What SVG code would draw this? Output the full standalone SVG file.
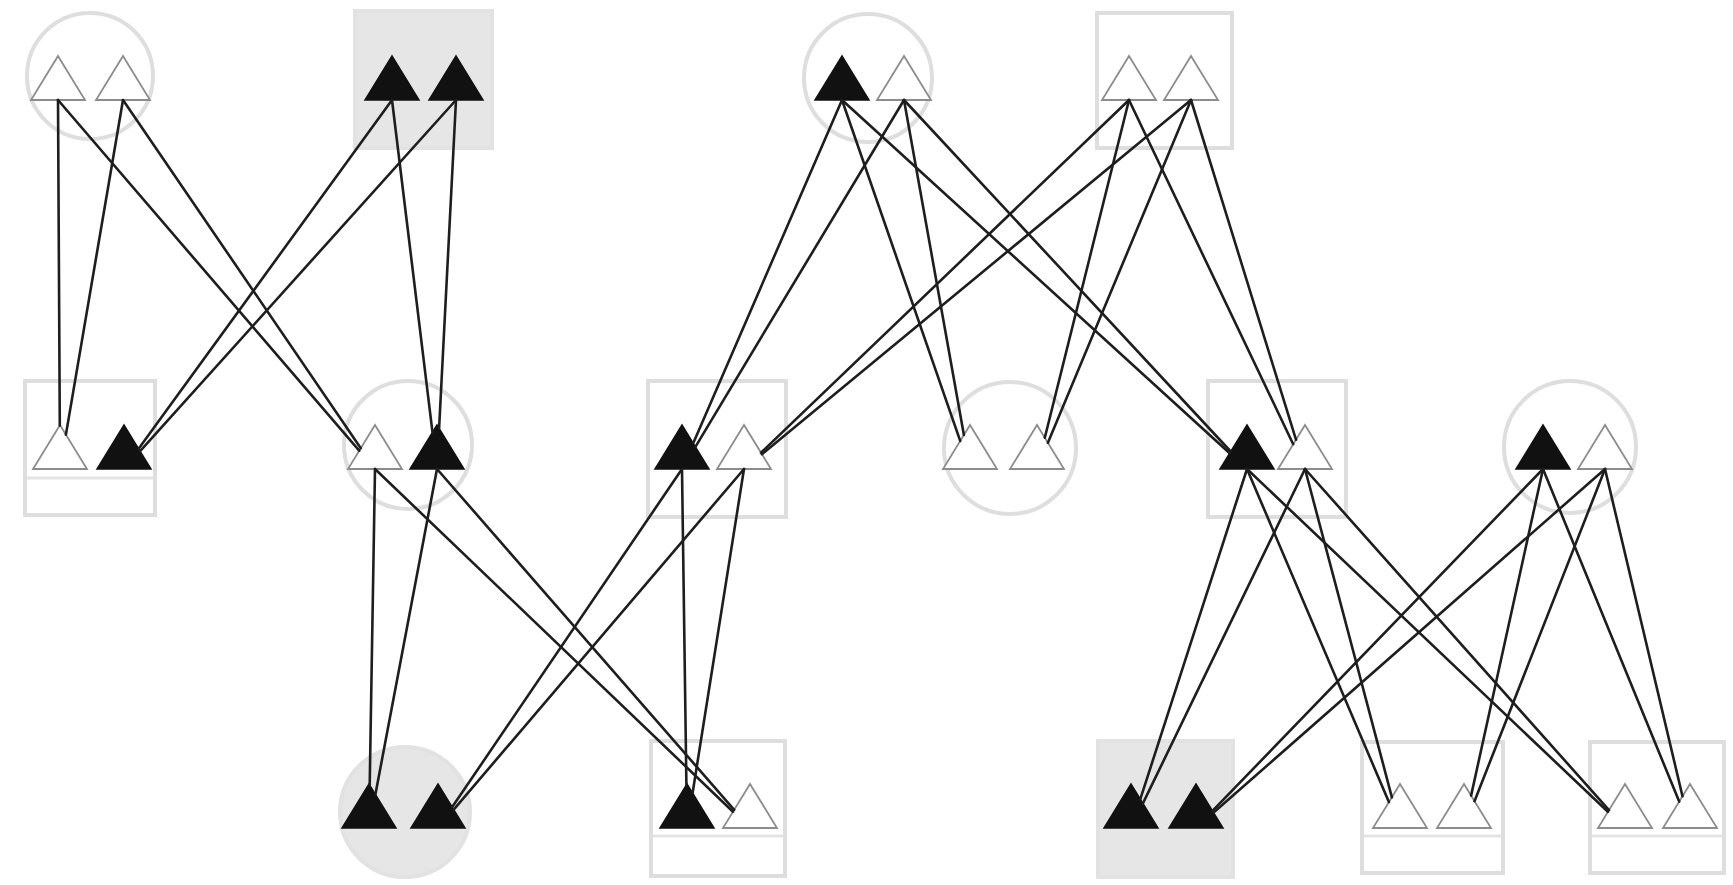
<svg xmlns="http://www.w3.org/2000/svg" xmlns:xlink="http://www.w3.org/1999/xlink" width="1733" height="885" viewBox="0 0 1733 885">
<style>
.bg{fill:#ffffff}
.sh{fill:none;stroke:#dedede;stroke-width:4}
.shg{fill:#e6e6e6;stroke:#e2e2e2;stroke-width:4}
.dv{stroke:#e4e4e4;stroke-width:3;fill:none}
.tw{fill:#ffffff;stroke:#8c8c8c;stroke-width:1.8;stroke-linejoin:miter}
.tb{fill:#111111;stroke:#111111;stroke-width:1.5}
.ln{stroke:#1e1e1e;stroke-width:2.6;fill:none;stroke-linecap:round}
</style>
<defs>
<path id="tri" d="M-27,0 L27,0 L0,-44 Z"/>
</defs>
<rect class="bg" x="0" y="0" width="1733" height="885"/>

<g id="N1"><circle class="sh" cx="90" cy="76" r="63"/><use xlink:href="#tri" class="tw" x="58" y="100"/><use xlink:href="#tri" class="tw" x="123" y="100"/></g>
<g id="N2"><rect class="shg" x="355" y="11" width="137" height="137"/><use xlink:href="#tri" class="tb" x="392" y="100"/><use xlink:href="#tri" class="tb" x="456" y="100"/></g>
<g id="N3"><circle class="sh" cx="868" cy="78" r="64"/><use xlink:href="#tri" class="tb" x="842" y="100"/><use xlink:href="#tri" class="tw" x="904" y="100"/></g>
<g id="N4"><rect class="sh" x="1097" y="13" width="135" height="135"/><use xlink:href="#tri" class="tw" x="1129" y="100"/><use xlink:href="#tri" class="tw" x="1191" y="100"/></g>

<g id="N5"><rect class="sh" x="25" y="381" width="130" height="134"/><line class="dv" x1="27" y1="478" x2="153" y2="478"/><use xlink:href="#tri" class="tw" x="60" y="469"/><use xlink:href="#tri" class="tb" x="124" y="469"/></g>
<g id="N6"><circle class="sh" cx="408" cy="445" r="64"/><use xlink:href="#tri" class="tw" x="375" y="469"/><use xlink:href="#tri" class="tb" x="437" y="469"/></g>
<g id="N7"><rect class="sh" x="648" y="381" width="138" height="136"/><use xlink:href="#tri" class="tb" x="682" y="469"/><use xlink:href="#tri" class="tw" x="744" y="469"/></g>
<g id="N8"><circle class="sh" cx="1010" cy="448" r="66"/><use xlink:href="#tri" class="tw" x="970" y="469"/><use xlink:href="#tri" class="tw" x="1037" y="469"/></g>
<g id="N9"><rect class="sh" x="1208" y="381" width="138" height="136"/><use xlink:href="#tri" class="tb" x="1247" y="469"/><use xlink:href="#tri" class="tw" x="1305" y="469"/></g>
<g id="N10"><circle class="sh" cx="1570" cy="447" r="66"/><use xlink:href="#tri" class="tb" x="1543" y="469"/><use xlink:href="#tri" class="tw" x="1605" y="469"/></g>

<g id="N11"><circle class="shg" cx="405" cy="812" r="65"/><use xlink:href="#tri" class="tb" x="369" y="828"/><use xlink:href="#tri" class="tb" x="438" y="828"/></g>
<g id="N12"><rect class="sh" x="651" y="741" width="134" height="135"/><line class="dv" x1="653" y1="836" x2="783" y2="836"/><use xlink:href="#tri" class="tb" x="687" y="828"/><use xlink:href="#tri" class="tw" x="750" y="828"/></g>
<g id="N13"><rect class="shg" x="1098" y="741" width="135" height="136"/><use xlink:href="#tri" class="tb" x="1131" y="828"/><use xlink:href="#tri" class="tb" x="1196" y="828"/></g>
<g id="N14"><rect class="sh" x="1362" y="742" width="141" height="131"/><line class="dv" x1="1364" y1="836" x2="1501" y2="836"/><use xlink:href="#tri" class="tw" x="1400" y="828"/><use xlink:href="#tri" class="tw" x="1464" y="828"/></g>
<g id="N15"><rect class="sh" x="1590" y="742" width="134" height="131"/><line class="dv" x1="1592" y1="836" x2="1722" y2="836"/><use xlink:href="#tri" class="tw" x="1625" y="828"/><use xlink:href="#tri" class="tw" x="1690" y="828"/></g>

<g id="connectors" class="ln">
<line x1="58" y1="100" x2="59.8" y2="425.4"/>
<line x1="123" y1="100" x2="65.9" y2="434.6"/>
<line x1="58" y1="100" x2="359.2" y2="450.7"/>
<line x1="123" y1="100" x2="360.8" y2="448.2"/>
<line x1="392" y1="100" x2="138.6" y2="448.8"/>
<line x1="456" y1="100" x2="140.1" y2="451.2"/>
<line x1="392" y1="100" x2="432.5" y2="432.3"/>
<line x1="456" y1="100" x2="439.1" y2="428.4"/>
<line x1="842" y1="100" x2="693.2" y2="443.2"/>
<line x1="904" y1="100" x2="695.4" y2="446.8"/>
<line x1="1129" y1="100" x2="761.0" y2="452.7"/>
<line x1="1191" y1="100" x2="761.9" y2="454.2"/>
<line x1="842" y1="100" x2="960.2" y2="440.9"/>
<line x1="904" y1="100" x2="963.9" y2="434.9"/>
<line x1="1129" y1="100" x2="1044.8" y2="437.7"/>
<line x1="1191" y1="100" x2="1047.9" y2="442.8"/>
<line x1="842" y1="100" x2="1229.7" y2="453.2"/>
<line x1="904" y1="100" x2="1230.7" y2="451.5"/>
<line x1="1129" y1="100" x2="1293.2" y2="444.2"/>
<line x1="1191" y1="100" x2="1296.0" y2="439.7"/>
<line x1="375" y1="469" x2="369.7" y2="785.2"/>
<line x1="437" y1="469" x2="375.4" y2="794.4"/>
<line x1="682" y1="469" x2="452.2" y2="807.1"/>
<line x1="744" y1="469" x2="453.7" y2="809.6"/>
<line x1="682" y1="469" x2="686.4" y2="785.0"/>
<line x1="744" y1="469" x2="692.6" y2="793.0"/>
<line x1="375" y1="469" x2="733.0" y2="811.7"/>
<line x1="437" y1="469" x2="734.2" y2="809.8"/>
<line x1="1247" y1="469" x2="1140.3" y2="799.2"/>
<line x1="1305" y1="469" x2="1142.9" y2="803.4"/>
<line x1="1543" y1="469" x2="1212.5" y2="810.9"/>
<line x1="1605" y1="469" x2="1213.6" y2="812.6"/>
<line x1="1247" y1="469" x2="1388.9" y2="802.0"/>
<line x1="1305" y1="469" x2="1391.9" y2="797.3"/>
<line x1="1543" y1="469" x2="1471.1" y2="795.6"/>
<line x1="1605" y1="469" x2="1474.5" y2="801.2"/>
<line x1="1247" y1="469" x2="1607.9" y2="811.8"/>
<line x1="1305" y1="469" x2="1609.0" y2="810.1"/>
<line x1="1543" y1="469" x2="1679.2" y2="801.6"/>
<line x1="1605" y1="469" x2="1682.5" y2="796.3"/>
</g>
</svg>
